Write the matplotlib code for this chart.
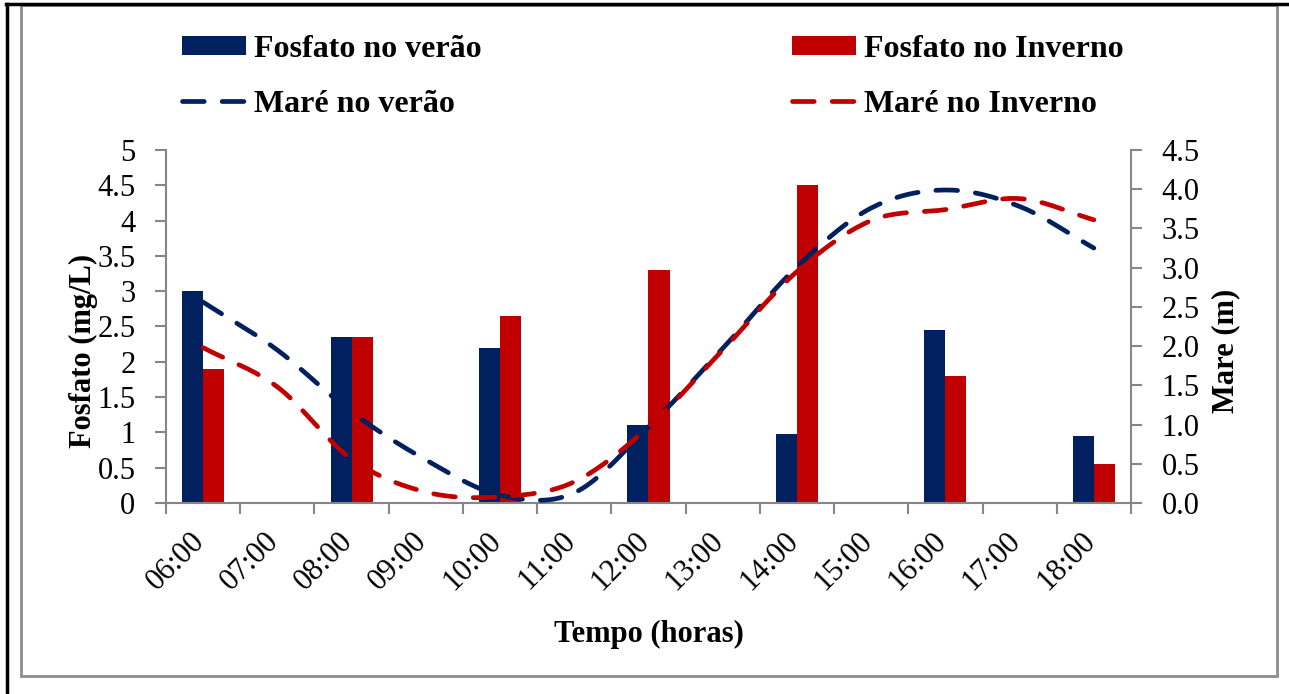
import numpy as np
import matplotlib
matplotlib.use('Agg')
import matplotlib.pyplot as plt
import matplotlib.transforms as mtransforms
from matplotlib.patches import Rectangle
from matplotlib.lines import Line2D

# Data
horas = ['06:00', '07:00', '08:00', '09:00', '10:00', '11:00', '12:00',
         '13:00', '14:00', '15:00', '16:00', '17:00', '18:00']
horas_fosfato = ['06:00', '08:00', '10:00', '12:00', '14:00', '16:00', '18:00']
fosfato_verao = [3.0, 2.35, 2.2, 1.1, 0.98, 2.45, 0.95]
fosfato_inverno = [1.9, 2.35, 2.65, 3.3, 4.5, 1.8, 0.55]
mare_verao = [2.56, 1.95, 1.16, 0.55, 0.10, 0.13, 0.97, 1.97, 3.01, 3.76, 3.99, 3.78, 3.25]
mare_inverno = [1.98, 1.48, 0.56, 0.14, 0.08, 0.27, 0.97, 1.95, 2.95, 3.60, 3.74, 3.88, 3.61]

azul = '#002060'
vermelho = '#C00000'
cinza = '#868686'

plt.rcParams['font.family'] = ['Liberation Serif', 'DejaVu Serif']


def suavizar(y, n=20):
    # Catmull-Rom curve through the points (like Excel's smoothed line)
    y = np.asarray(y, dtype=float)
    x = np.arange(len(y), dtype=float)
    px = np.concatenate([[2 * x[0] - x[1]], x, [2 * x[-1] - x[-2]]])
    py = np.concatenate([[2 * y[0] - y[1]], y, [2 * y[-1] - y[-2]]])
    xs, ys = [], []
    t = np.linspace(0, 1, n, endpoint=False)
    for i in range(1, len(px) - 2):
        for arr, out in ((px, xs), (py, ys)):
            p0, p1, p2, p3 = arr[i - 1], arr[i], arr[i + 1], arr[i + 2]
            out.extend(0.5 * ((2 * p1) + (-p0 + p2) * t
                              + (2 * p0 - 5 * p1 + 4 * p2 - p3) * t ** 2
                              + (-p0 + 3 * p1 - 3 * p2 + p3) * t ** 3))
    xs.append(x[-1])
    ys.append(y[-1])
    return np.array(xs), np.array(ys)


fig = plt.figure(figsize=(12.89, 6.94), dpi=100)
ax = fig.add_axes([0.1288, 0.2752, 0.7486, 0.5087])
ax2 = ax.twinx()

pos = np.array([horas.index(h) for h in horas_fosfato])
w = 0.283
b1 = ax.bar(pos - w / 2, fosfato_verao, w, color=azul, zorder=2)
b2 = ax.bar(pos + w / 2, fosfato_inverno, w, color=vermelho, zorder=2)

lw = 3.4
tracos = [4.6, 3.8]
xv, yv = suavizar(mare_verao)
xi, yi = suavizar(mare_inverno)
l1, = ax2.plot(xv, yv, color=azul, lw=lw, dash_capstyle='round')
l2, = ax2.plot(xi, yi, color=vermelho, lw=lw, dash_capstyle='round')
for l in (l1, l2):
    l.set_dashes(tracos)

ax.set_xlim(-0.5, 12.5)
ax.set_ylim(0, 5)
ax2.set_ylim(0, 4.5)
ax.set_yticks(np.arange(0, 5.01, 0.5))
ax.set_yticklabels(['0', '0.5', '1', '1.5', '2', '2.5', '3', '3.5', '4', '4.5', '5'])
ax2.set_yticks(np.arange(0, 4.51, 0.5))
ax2.set_yticklabels([f'{v:.1f}' for v in np.arange(0, 4.51, 0.5)])

ax.set_xticks(range(len(horas)))
ax.set_xticklabels(horas, rotation=45, ha='right', va='top')
ax.set_xticks(np.arange(-0.5, len(horas), 1), minor=True)
ax.tick_params(axis='x', which='major', length=0, pad=17, labelsize=22)
ax.tick_params(axis='x', which='minor', length=8, width=1.5, color=cinza)
ax.tick_params(axis='y', length=8, width=1.5, color=cinza, pad=14, labelsize=22)
ax2.tick_params(axis='y', length=8, width=1.5, color=cinza, pad=14, labelsize=22)
desloc = mtransforms.ScaledTranslation(7 / 100, 0, fig.dpi_scale_trans)
for lab in ax.get_xticklabels():
    lab.set_transform(lab.get_transform() + desloc)

for a in (ax, ax2):
    a.spines['top'].set_visible(False)
    for s in ('left', 'right', 'bottom'):
        a.spines[s].set_color(cinza)
        a.spines[s].set_linewidth(1.5)
ax.spines['right'].set_visible(False)
ax2.spines['left'].set_visible(False)
ax2.spines['bottom'].set_visible(False)

ax.set_ylabel('Fosfato (mg/L)', fontsize=22, fontweight='bold')
ax.yaxis.set_label_coords(-0.071, 0.43)
ax2.set_ylabel('Mare (m)', fontsize=22, fontweight='bold')
ax2.yaxis.set_label_coords(1.083, 0.43)
ax.set_xlabel('Tempo (horas)', fontsize=22, fontweight='bold')
ax.xaxis.set_label_coords(0.5, -0.332)

fig.legend([b1, Line2D([], [], color=azul, lw=lw, dashes=tracos, dash_capstyle='round'),
            b2, Line2D([], [], color=vermelho, lw=lw, dashes=tracos, dash_capstyle='round')],
           ['Fosfato no verão', 'Maré no verão', 'Fosfato no Inverno', 'Maré no Inverno'],
           ncol=2, loc='upper left', bbox_to_anchor=(0.1412, 0.950), frameon=False,
           prop={'size': 23, 'weight': 'bold'}, handlelength=2.0, handleheight=0.55,
           handletextpad=0.25, columnspacing=9.72, labelspacing=0.82, borderpad=0,
           borderaxespad=0)

# chart frame
W, H = 1289, 694
fig.patches.append(Rectangle((21 / W, 1 - 676 / H), (1277 - 21) / W, (676 - 5) / H,
                             transform=fig.transFigure, fill=False, edgecolor='#8c8c8c', lw=2))
fig.lines.append(Line2D([6 / W, 1], [1 - 4 / H, 1 - 4 / H], transform=fig.transFigure,
                        color='black', lw=2.5))
fig.lines.append(Line2D([7 / W, 7 / W], [0, 1 - 4 / H], transform=fig.transFigure,
                        color='black', lw=2.5))

fig.savefig('out.png', dpi=100)
